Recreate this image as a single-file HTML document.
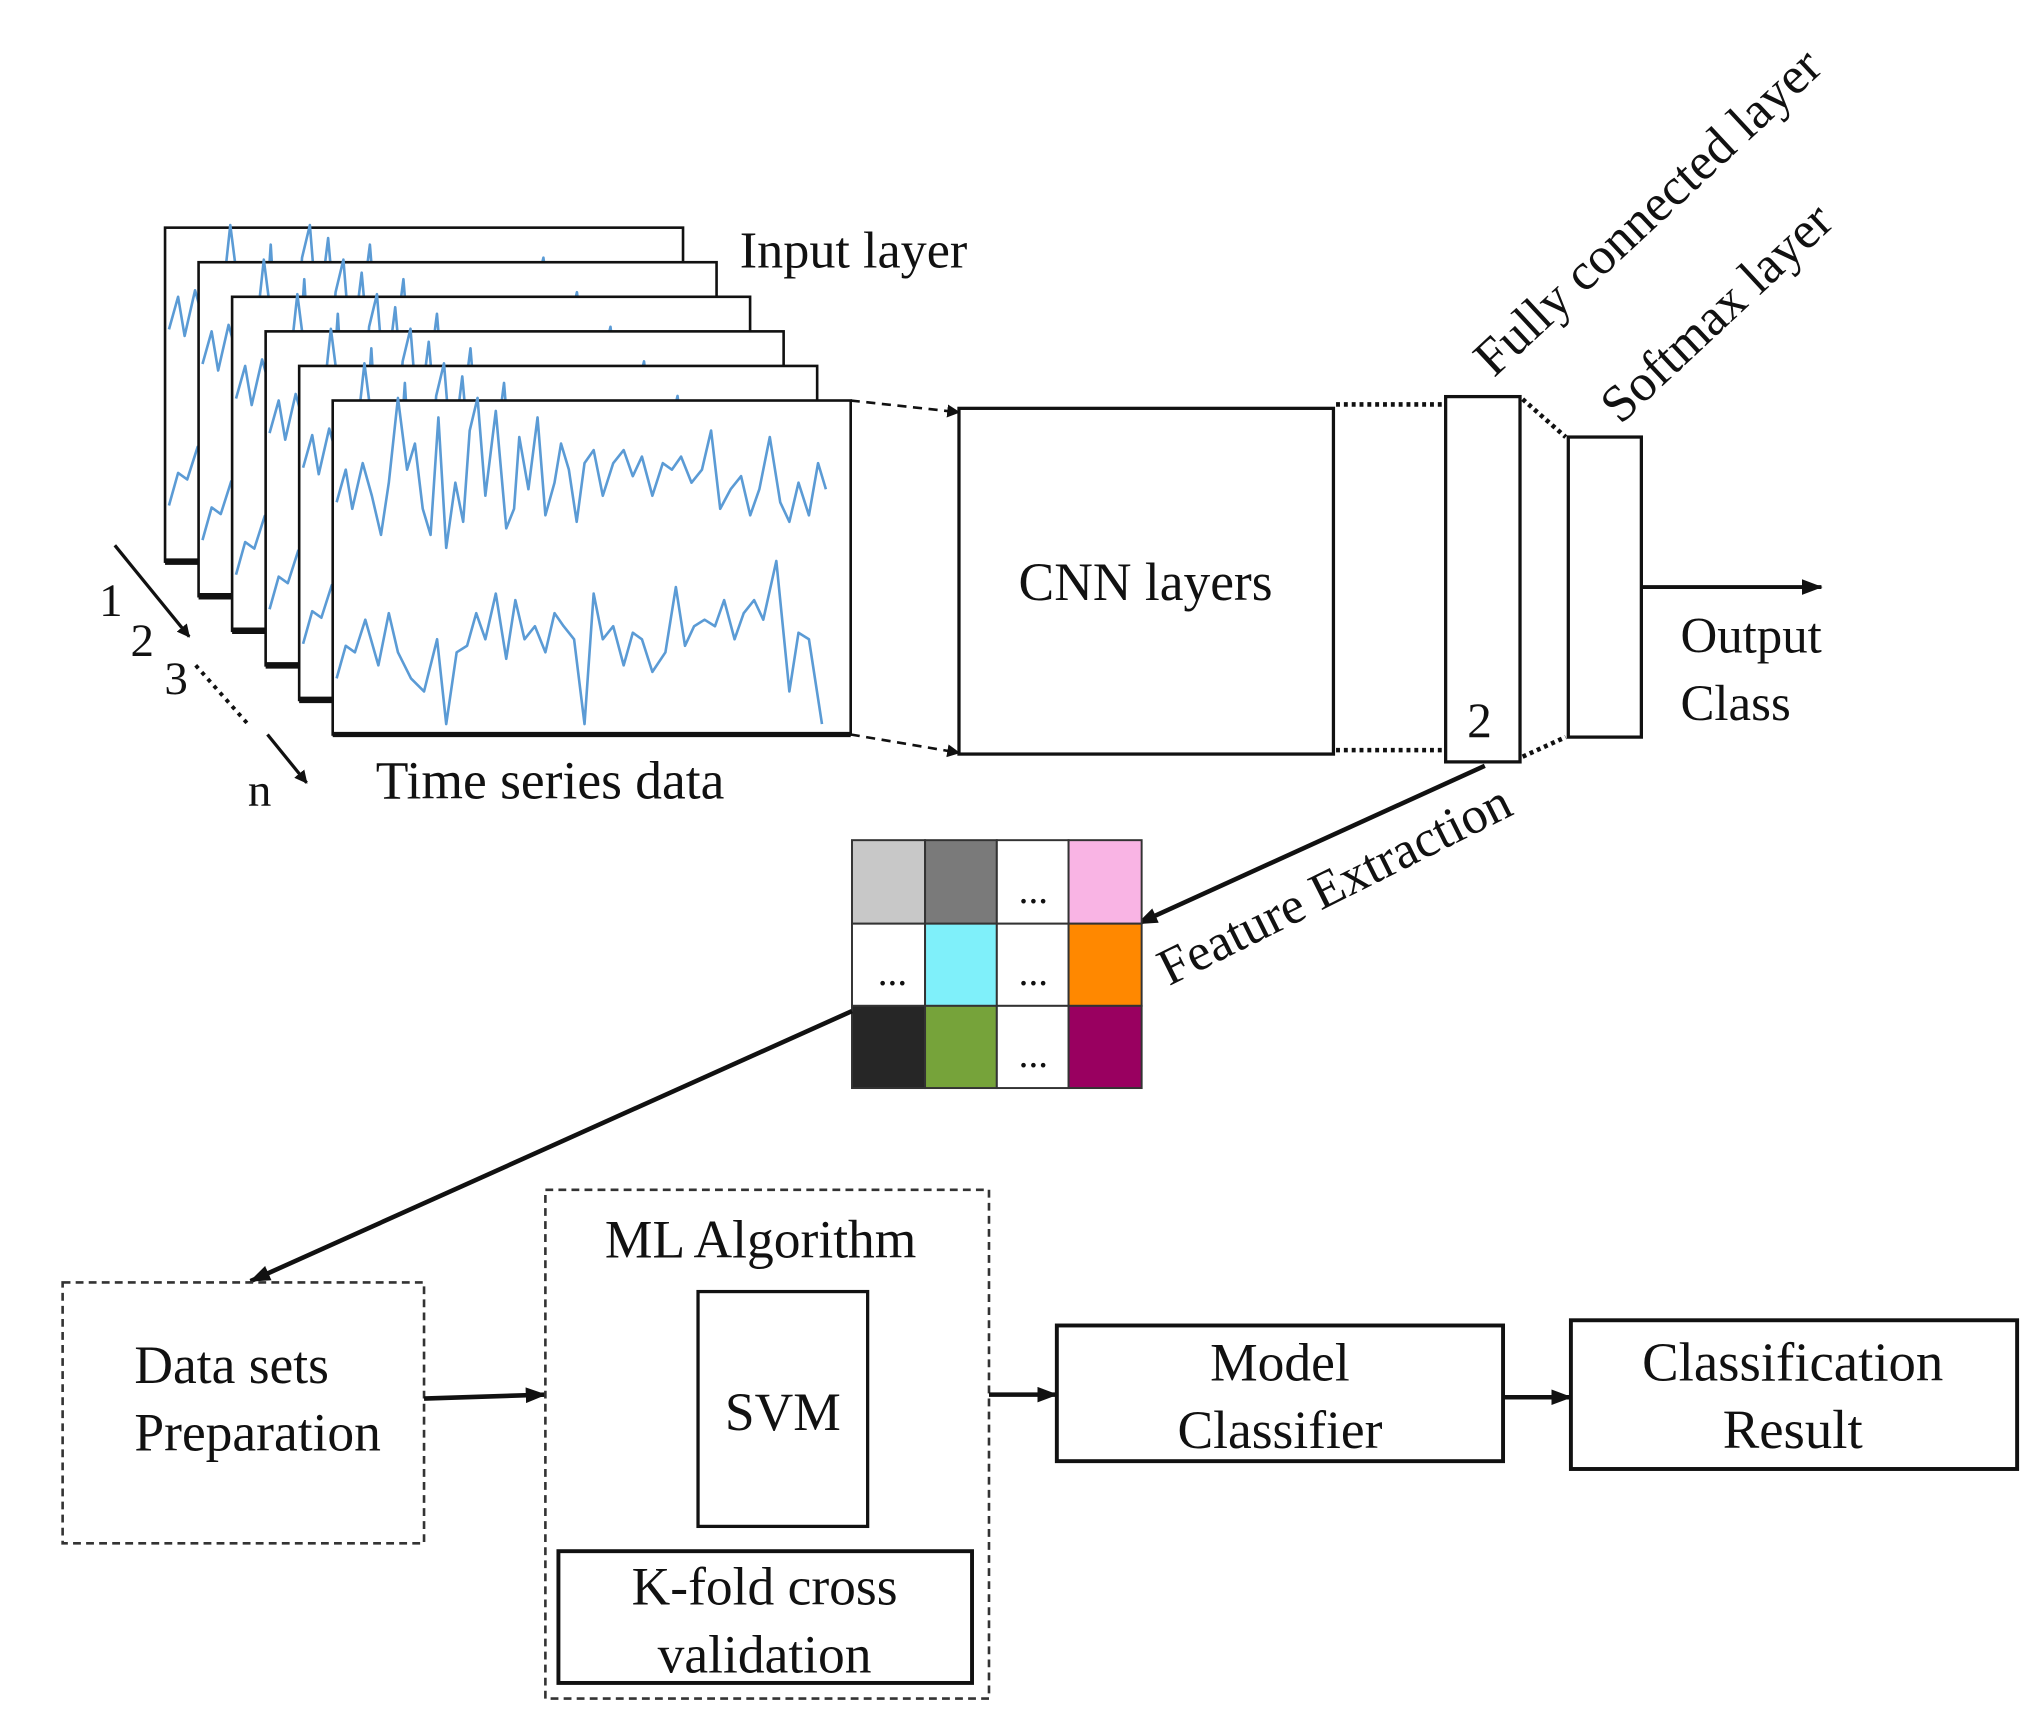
<!DOCTYPE html>
<html><head><meta charset="utf-8"><style>
html,body{margin:0;padding:0;background:#fff}
svg{display:block}
text{font-family:"Liberation Serif",serif;fill:#111}
</style></head><body>
<svg width="2038" height="1726" viewBox="0 0 1562 1323" preserveAspectRatio="none" xmlns="http://www.w3.org/2000/svg">
<defs>
<marker id="ah" markerWidth="10" markerHeight="10" refX="9" refY="5" orient="auto" markerUnits="userSpaceOnUse"><path d="M0,0 L10,5 L0,10 z" fill="#111"/></marker>
<marker id="ahs" markerWidth="16" markerHeight="12" refX="15" refY="6" orient="auto" markerUnits="userSpaceOnUse"><path d="M0,0 L16,6 L0,12 z" fill="#111"/></marker>
<g id="waves" fill="none" stroke="#5b9bd5" stroke-width="2" stroke-linejoin="round">
<polyline points="258,385 265,360 270,390 278,355 285,380 292,410 298,370 305,305 312,360 318,340 324,390 330,410 336,320 342,420 349,370 355,400 360,330 366,305 372,380 380,315 388,405 394,390 398,335 405,375 412,320 418,395 425,370 430,340 436,360 442,400 448,355 455,345 462,380 470,355 478,345 485,365 492,350 500,380 508,355 515,360 522,350 530,370 538,360 545,330 552,390 560,375 568,365 575,395 582,375 590,335 598,385 605,400 612,370 620,395 627,355 633,375"/>
<polyline points="258,520 265,495 272,500 280,475 290,510 298,470 305,500 315,520 325,530 335,490 342,555 350,500 358,495 365,470 372,490 380,455 388,505 395,460 402,490 410,480 418,500 425,470 432,480 440,490 448,555 455,455 462,490 470,480 478,510 485,485 492,490 500,515 510,500 518,450 525,495 532,480 540,475 548,480 555,460 563,490 570,470 578,460 585,475 595,430 605,530 612,485 620,490 630,555"/>
</g>
</defs>
<rect width="1562" height="1323" fill="#fff"/>

<g stroke="#111">
<g transform="translate(-128.5,-132.5)"><rect x="255" y="307" width="397" height="256" fill="#fff" stroke-width="2"/><line x1="255" y1="563" x2="281" y2="563" stroke-width="5"/><use href="#waves"/></g>
<g transform="translate(-102.8,-106)"><rect x="255" y="307" width="397" height="256" fill="#fff" stroke-width="2"/><line x1="255" y1="563" x2="281" y2="563" stroke-width="5"/><use href="#waves"/></g>
<g transform="translate(-77.1,-79.5)"><rect x="255" y="307" width="397" height="256" fill="#fff" stroke-width="2"/><line x1="255" y1="563" x2="281" y2="563" stroke-width="5"/><use href="#waves"/></g>
<g transform="translate(-51.4,-53)"><rect x="255" y="307" width="397" height="256" fill="#fff" stroke-width="2"/><line x1="255" y1="563" x2="281" y2="563" stroke-width="5"/><use href="#waves"/></g>
<g transform="translate(-25.7,-26.5)"><rect x="255" y="307" width="397" height="256" fill="#fff" stroke-width="2"/><line x1="255" y1="563" x2="281" y2="563" stroke-width="5"/><use href="#waves"/></g>
<g><rect x="255" y="307" width="397" height="256" fill="#fff" stroke-width="2"/><line x1="255" y1="563" x2="652" y2="563" stroke-width="4"/><use href="#waves"/></g>
</g>

<text x="567" y="205" font-size="40">Input layer</text>
<text x="288" y="612" font-size="41">Time series data</text>
<text x="76" y="472" font-size="36">1</text>
<text x="100" y="503" font-size="36">2</text>
<text x="126" y="532" font-size="36">3</text>
<text x="190" y="618" font-size="36">n</text>
<line x1="88" y1="418" x2="145" y2="488" stroke="#111" stroke-width="2.5" marker-end="url(#ah)"/>
<line x1="150" y1="510" x2="190" y2="555" stroke="#111" stroke-width="3" stroke-dasharray="3,4"/>
<line x1="205" y1="563" x2="235" y2="600" stroke="#111" stroke-width="2.5" marker-end="url(#ah)"/>

<line x1="652" y1="307" x2="735" y2="316" stroke="#111" stroke-width="2" stroke-dasharray="7,5" marker-end="url(#ah)"/>
<line x1="652" y1="563" x2="735" y2="577" stroke="#111" stroke-width="2" stroke-dasharray="7,5" marker-end="url(#ah)"/>
<rect x="735" y="313" width="287" height="265" fill="#fff" stroke="#111" stroke-width="2.5"/>
<text x="878" y="460" font-size="41" text-anchor="middle">CNN layers</text>

<line x1="1024" y1="310" x2="1108" y2="310" stroke="#111" stroke-width="3.5" stroke-dasharray="3,3"/>
<line x1="1024" y1="575" x2="1108" y2="575" stroke="#111" stroke-width="3.5" stroke-dasharray="3,3"/>
<rect x="1108" y="304" width="57" height="280" fill="#fff" stroke="#111" stroke-width="2.5"/>
<text x="1134" y="565" font-size="38" text-anchor="middle">2</text>
<line x1="1167" y1="306" x2="1200" y2="335" stroke="#111" stroke-width="3.5" stroke-dasharray="3,3"/>
<line x1="1167" y1="580" x2="1200" y2="565" stroke="#111" stroke-width="3.5" stroke-dasharray="3,3"/>
<rect x="1202" y="335" width="56" height="230" fill="#fff" stroke="#111" stroke-width="2.5"/>
<line x1="1258" y1="450" x2="1396" y2="450" stroke="#111" stroke-width="3" marker-end="url(#ahs)"/>
<text x="1288" y="500" font-size="39">Output</text>
<text x="1288" y="552" font-size="39">Class</text>
<text transform="translate(1145,290) rotate(-43)" font-size="40">Fully connected layer</text>
<text transform="translate(1242,326) rotate(-43)" font-size="40">Softmax layer</text>

<line x1="1138" y1="587" x2="872" y2="708" stroke="#111" stroke-width="3.5" marker-end="url(#ahs)"/>
<text transform="translate(896,756) rotate(-26.5)" font-size="40">Feature Extraction</text>

<g stroke="#333" stroke-width="1.5">
<rect x="653" y="644" width="56" height="64" fill="#c8c8c8"/>
<rect x="709" y="644" width="55" height="64" fill="#7a7a7a"/>
<rect x="764" y="644" width="55" height="64" fill="#fff"/>
<rect x="819" y="644" width="56" height="64" fill="#f9b4e4"/>
<rect x="653" y="708" width="56" height="63" fill="#fff"/>
<rect x="709" y="708" width="55" height="63" fill="#7ff0fa"/>
<rect x="764" y="708" width="55" height="63" fill="#fff"/>
<rect x="819" y="708" width="56" height="63" fill="#ff8800"/>
<rect x="653" y="771" width="56" height="63" fill="#262626"/>
<rect x="709" y="771" width="55" height="63" fill="#76a33a"/>
<rect x="764" y="771" width="55" height="63" fill="#fff"/>
<rect x="819" y="771" width="56" height="63" fill="#990060"/>
</g>
<text x="792" y="692" font-size="30" text-anchor="middle">...</text>
<text x="684" y="755" font-size="30" text-anchor="middle">...</text>
<text x="792" y="755" font-size="30" text-anchor="middle">...</text>
<text x="792" y="818" font-size="30" text-anchor="middle">...</text>

<line x1="653" y1="775" x2="192" y2="982" stroke="#111" stroke-width="3.5" marker-end="url(#ahs)"/>

<rect x="48" y="983" width="277" height="200" fill="none" stroke="#333" stroke-width="2" stroke-dasharray="6,4"/>
<text x="103" y="1060" font-size="41">Data sets</text>
<text x="103" y="1112" font-size="41">Preparation</text>
<line x1="325" y1="1072" x2="418" y2="1069" stroke="#111" stroke-width="3.5" marker-end="url(#ahs)"/>
<rect x="418" y="912" width="340" height="390" fill="none" stroke="#333" stroke-width="2" stroke-dasharray="6,4"/>
<text x="583" y="964" font-size="41" text-anchor="middle">ML Algorithm</text>
<rect x="535" y="990" width="130" height="180" fill="#fff" stroke="#111" stroke-width="2.5"/>
<text x="600" y="1096" font-size="41" text-anchor="middle">SVM</text>
<rect x="428" y="1189" width="317" height="101" fill="#fff" stroke="#111" stroke-width="3"/>
<text x="586" y="1230" font-size="41" text-anchor="middle">K-fold cross</text>
<text x="586" y="1282" font-size="41" text-anchor="middle">validation</text>
<line x1="758" y1="1069" x2="810" y2="1069" stroke="#111" stroke-width="3.5" marker-end="url(#ahs)"/>
<rect x="810" y="1016" width="342" height="104" fill="#fff" stroke="#111" stroke-width="3"/>
<text x="981" y="1058" font-size="41" text-anchor="middle">Model</text>
<text x="981" y="1110" font-size="41" text-anchor="middle">Classifier</text>
<line x1="1152" y1="1071" x2="1204" y2="1071" stroke="#111" stroke-width="3.5" marker-end="url(#ahs)"/>
<rect x="1204" y="1012" width="342" height="114" fill="#fff" stroke="#111" stroke-width="3"/>
<text x="1374" y="1058" font-size="42" text-anchor="middle">Classification</text>
<text x="1374" y="1110" font-size="42" text-anchor="middle">Result</text>
</svg>
</body></html>
